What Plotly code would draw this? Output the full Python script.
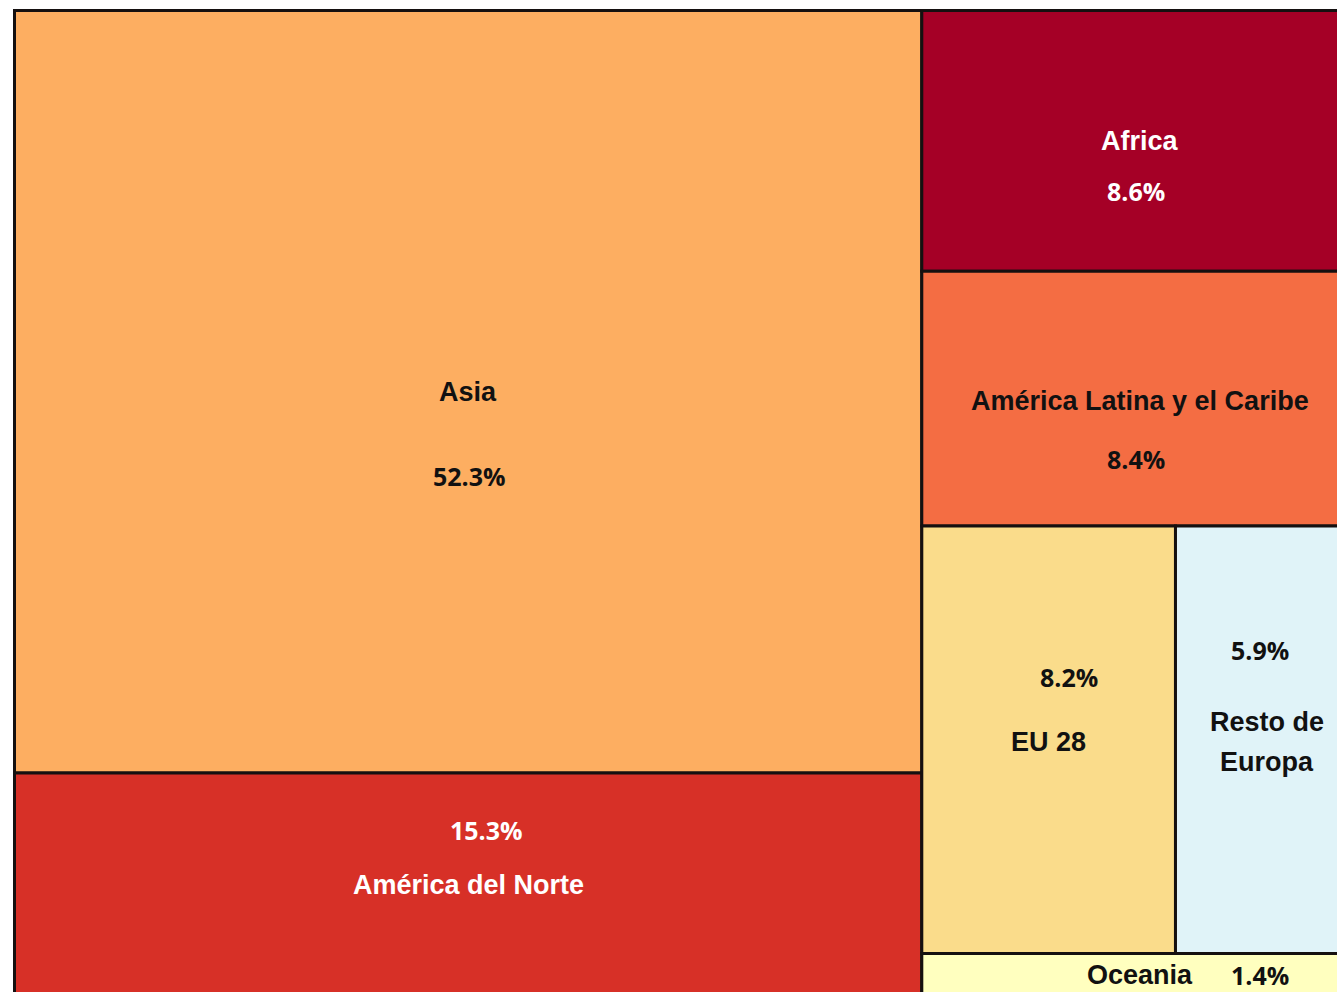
import plotly.graph_objects as go

# ---- data ----
regions = ["Asia", "América del Norte", "Africa", "América Latina y el Caribe",
           "EU 28", "Resto de<br>Europa", "Oceania"]
shares = [52.3, 15.3, 8.6, 8.4, 8.2, 5.9, 1.4]
colors = ["#fdae61", "#d73027", "#a50026", "#f46d43", "#fadc8b", "#e0f3f8", "#ffffbf"]
text_colors = ["#111111", "#ffffff", "#ffffff", "#111111", "#111111", "#111111", "#111111"]

# layout structure: left column stacks regions 0-1; right column rows
left_col = [0, 1]
right_rows = [[2], [3], [4, 5], [6]]

total = sum(shares)

# ---- compute slice-and-dice rectangles (fractions of full chart) ----
rects = {}
left_total = sum(shares[i] for i in left_col)
left_w = left_total / total
y = 0.0
for i in left_col:
    h = shares[i] / left_total
    rects[i] = (0.0, left_w, y, y + h)
    y += h
right_total = sum(shares[i] for row in right_rows for i in row)
y = 0.0
for row in right_rows:
    row_sum = sum(shares[i] for i in row)
    h = row_sum / right_total
    x = left_w
    for i in row:
        w = (1 - left_w) * shares[i] / row_sum
        rects[i] = (x, x + w, y, y + h)
        x += w
    y += h

# label placement (pixel offsets relative to rect centre): (name dx, name dy, pct dx, pct dy)
label_offsets = {
    0: (0, 0, 1, -84),
    1: (0, -1, 18, 54),
    2: (0, 0, -4, -50),
    3: (0, -2, -4, -60),
    4: (0, -2, 20, 63),
    5: (0, -2, -7, 90),
    6: (0, 0, 120, 0),
}
LINE_GAP = 40

FULL_W, FULL_H = 1343.5, 985.5   # pixel size of the full chart (cropped at right/bottom)
CHART_X0, CHART_Y0 = 14.5, 10.5  # page position of chart's top-left corner
L, T = 12, 8
W, H = 1337, 992

fig = go.Figure()
for i in range(len(regions)):
    x0, x1, y0, y1 = rects[i]
    fig.add_shape(type="rect", xref="x", yref="y", x0=x0, x1=x1, y0=y0, y1=y1,
                  fillcolor=colors[i], line=dict(color="#151010", width=3), layer="below")
    cx, cy = (x0 + x1) / 2, (y0 + y1) / 2
    ndx, ndy, pdx, pdy = label_offsets[i]
    lines = regions[i].split("<br>")
    n = len(lines)
    for k, line in enumerate(lines):
        off = ((n - 1) / 2 - k) * LINE_GAP
        fig.add_annotation(x=cx, y=cy, xref="x", yref="y", text=f"<b>{line}</b>",
                           showarrow=False, xshift=ndx, yshift=ndy + off,
                           font=dict(family="Liberation Sans, Arial", size=27,
                                     color=text_colors[i]))
    fig.add_annotation(x=cx, y=cy, xref="x", yref="y", text=f"<b>{shares[i]:.1f}%</b>",
                       showarrow=False, xshift=pdx, yshift=pdy,
                       font=dict(family="Open Sans, Noto Sans", size=25, color=text_colors[i]))

fig.update_xaxes(range=[(L - CHART_X0) / FULL_W, (W - CHART_X0) / FULL_W],
                 visible=False, fixedrange=True)
fig.update_yaxes(range=[(H - CHART_Y0) / FULL_H, (T - CHART_Y0) / FULL_H],
                 visible=False, fixedrange=True)
fig.update_layout(width=W, height=H, margin=dict(l=L, r=0, t=T, b=0),
                  paper_bgcolor="white", plot_bgcolor="white", showlegend=False)

fig.write_html("out.html", config={"displayModeBar": False},
               post_script="document.body.style.margin='0';"
                           "document.body.style.overflow='hidden';")
